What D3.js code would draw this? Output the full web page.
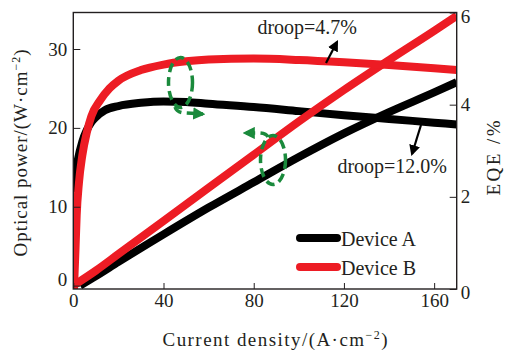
<!DOCTYPE html>
<html>
<head>
<meta charset="utf-8">
<script src="https://cdn.jsdelivr.net/npm/d3@7"></script>
<style>
  body { margin: 0; background: #fff; }
  svg text { font-family: "Liberation Serif", "Times New Roman", serif !important; }
</style>
</head>
<body>
<svg id="chart" width="506" height="351"></svg>
<script>
// current density (A/cm2) and optical power (W/cm2)
const jPowerA = [3, 10, 20, 40, 60, 80, 100, 120, 140, 160, 170];
const powerA = [0, 1.2, 3.0, 6.5, 9.9, 13.1, 16.3, 19.3, 22.0, 24.5, 25.8];
const jPowerB = [0, 10, 20, 40, 60, 80, 100, 120, 140, 160, 170];
const powerB = [0, 1.9, 4.0, 8.2, 12.4, 16.6, 20.8, 24.8, 28.6, 32.3, 34.2];

// EQE (%)
const jEqeA = [0, 1, 2, 4, 6, 8, 10, 14, 20, 30, 40, 50, 60, 80, 100, 120, 140, 160, 170];
const eqeA = [2.1, 2.5, 2.8, 3.2, 3.45, 3.62, 3.73, 3.88, 3.97, 4.04, 4.07, 4.06, 4.02, 3.95, 3.86, 3.77, 3.69, 3.61, 3.57];
const jEqeB = [0.3, 1, 1.5, 2.5, 4, 6, 8, 12, 16, 20, 30, 40, 50, 60, 80, 100, 120, 140, 160, 170];
const eqeB = [0, 0.9, 1.6, 2.3, 2.9, 3.4, 3.75, 4.1, 4.35, 4.52, 4.75, 4.87, 4.94, 4.98, 5.0, 4.97, 4.92, 4.86, 4.79, 4.75];

const xTicks = [0, 40, 80, 120, 160];
const leftTicks = [0, 10, 20, 30];
const rightTicks = [0, 2, 4, 6];
const devices = ["Device A", "Device B"];
const droopLabels = ["droop=4.7%", "droop=12.0%"];

const BOX = { LEFT: 73.3, RIGHT: 456.7, TOP: 12.5, BOTTOM: 289 };
const RED = "#ed1c24", BLACK = "#000", GREEN = "#1a8a3c", INK = "#231f20";

let svg = d3.select("#chart");
let defs = svg.append("defs");

let x = d3.scaleLinear().domain([0, 170]).range([BOX.LEFT, BOX.RIGHT]);
let yL = d3.scaleLinear().domain([-0.43, 34.63]).range([BOX.BOTTOM, BOX.TOP]);
let yR = d3.scaleLinear().domain([0, 6]).range([BOX.BOTTOM, BOX.TOP]);

defs.append("clipPath").attr("id", "plot-clip")
  .append("rect")
  .attr("x", BOX.LEFT).attr("y", BOX.TOP)
  .attr("width", BOX.RIGHT - BOX.LEFT).attr("height", BOX.BOTTOM - BOX.TOP);

let curves = svg.append("g").attr("clip-path", "url(#plot-clip)");

function drawCurve(xs, ys, yScale, color) {
  let pts = xs.map((v, i) => [v, ys[i]]);
  let line = d3.line()
    .x(d => x(d[0]))
    .y(d => yScale(d[1]))
    .curve(d3.curveMonotoneX);
  curves.append("path")
    .attr("d", line(pts))
    .attr("fill", "none")
    .attr("stroke", color)
    .attr("stroke-width", 8)
    .attr("stroke-linejoin", "round");
}

drawCurve(jPowerA, powerA, yL, BLACK);
drawCurve(jEqeA, eqeA, yR, BLACK);
drawCurve(jPowerB, powerB, yL, RED);
drawCurve(jEqeB, eqeB, yR, RED);

// frame
svg.append("rect")
  .attr("x", BOX.LEFT).attr("y", BOX.TOP)
  .attr("width", BOX.RIGHT - BOX.LEFT).attr("height", BOX.BOTTOM - BOX.TOP)
  .attr("fill", "none").attr("stroke", INK).attr("stroke-width", 1.4);

function styleAxis(g) {
  g.select(".domain").remove();
  g.selectAll(".tick line").attr("stroke", INK).attr("stroke-width", 1);
  g.selectAll(".tick text").attr("fill", INK).attr("font-size", 19);
}

svg.append("g")
  .attr("transform", "translate(0," + BOX.BOTTOM + ")")
  .call(d3.axisBottom(x).tickValues(xTicks).tickFormat(d3.format("d")).tickSize(-6).tickPadding(5))
  .call(styleAxis);

let gl = svg.append("g")
  .attr("transform", "translate(" + BOX.LEFT + ",0)")
  .call(d3.axisLeft(yL).tickValues(leftTicks).tickFormat(d3.format("d")).tickSize(-7).tickPadding(6))
  .call(styleAxis);
gl.selectAll(".tick text").filter(d => d === 0).attr("y", -6);

let gr = svg.append("g")
  .attr("transform", "translate(" + BOX.RIGHT + ",0)")
  .call(d3.axisRight(yR).tickValues(rightTicks).tickFormat(d3.format("d")).tickSize(-7).tickPadding(4))
  .call(styleAxis);
gr.selectAll(".tick text").filter(d => d === 6).attr("y", 4);
gr.selectAll(".tick text").filter(d => d === 0).attr("y", 3);

// axis titles
let xTitle = svg.append("text")
  .attr("x", 275).attr("y", 346)
  .attr("text-anchor", "middle")
  .attr("font-size", 19).attr("fill", INK)
  .attr("textLength", 225).attr("lengthAdjust", "spacing");
xTitle.append("tspan").text("Current  density/(A·cm");
xTitle.append("tspan").attr("font-size", 12).attr("dy", -7).text("−2");
xTitle.append("tspan").attr("dy", 7).text(")");

let yTitle = svg.append("text")
  .attr("transform", "translate(27,153) rotate(-90)")
  .attr("text-anchor", "middle")
  .attr("font-size", 19).attr("fill", INK)
  .attr("textLength", 207).attr("lengthAdjust", "spacing");
yTitle.append("tspan").text("Optical  power/(W·cm");
yTitle.append("tspan").attr("font-size", 12).attr("dy", -7).text("−2");
yTitle.append("tspan").attr("dy", 7).text(")");

svg.append("text")
  .attr("transform", "translate(500,158) rotate(-90)")
  .attr("text-anchor", "middle")
  .attr("font-size", 19).attr("fill", INK)
  .attr("textLength", 75).attr("lengthAdjust", "spacing")
  .text("EQE /%");

// legend
let legend = svg.append("g");
devices.forEach((name, i) => {
  let ly = 238 + i * 29;
  legend.append("line")
    .attr("x1", 300).attr("x2", 337).attr("y1", ly).attr("y2", ly)
    .attr("stroke", i === 0 ? BLACK : RED)
    .attr("stroke-width", 8).attr("stroke-linecap", "round");
  legend.append("text")
    .attr("x", 341).attr("y", ly + 8)
    .attr("font-size", 20).attr("fill", INK)
    .text(name);
});

// droop annotations
defs.append("marker")
  .attr("id", "arrow-black")
  .attr("viewBox", "0 0 10 10").attr("refX", 8).attr("refY", 5)
  .attr("markerWidth", 5).attr("markerHeight", 5)
  .attr("orient", "auto")
  .append("path").attr("d", "M0,0 L10,5 L0,10 Z").attr("fill", BLACK);

svg.append("text").attr("x", 357).attr("y", 34)
  .attr("text-anchor", "end").attr("font-size", 20).attr("fill", INK)
  .text(droopLabels[0]);
svg.append("line")
  .attr("x1", 326).attr("y1", 63).attr("x2", 337).attr("y2", 42)
  .attr("stroke", BLACK).attr("stroke-width", 2.2)
  .attr("marker-end", "url(#arrow-black)");

svg.append("text").attr("x", 447).attr("y", 173)
  .attr("text-anchor", "end").attr("font-size", 20).attr("fill", INK)
  .text(droopLabels[1]);
svg.append("line")
  .attr("x1", 421).attr("y1", 125).attr("x2", 412).attr("y2", 154)
  .attr("stroke", BLACK).attr("stroke-width", 2.2)
  .attr("marker-end", "url(#arrow-black)");

// green axis indicators
defs.append("marker")
  .attr("id", "arrow-green")
  .attr("viewBox", "0 0 10 10").attr("refX", 8).attr("refY", 5)
  .attr("markerWidth", 3.5).attr("markerHeight", 3.5)
  .attr("orient", "auto")
  .append("path").attr("d", "M0,0 L10,5 L0,10 Z").attr("fill", GREEN);

let green = svg.append("g")
  .attr("fill", "none").attr("stroke", GREEN)
  .attr("stroke-width", 3.5).attr("stroke-dasharray", "9,5");

green.append("ellipse").attr("cx", 180.5).attr("cy", 82.5).attr("rx", 12).attr("ry", 25);
green.append("path")
  .attr("d", "M175,107 Q177,113 186,113 L203,114")
  .attr("stroke-dasharray", null)
  .attr("marker-end", "url(#arrow-green)");

green.append("ellipse").attr("cx", 273).attr("cy", 160).attr("rx", 12.5).attr("ry", 24.5);
green.append("path")
  .attr("d", "M268,137 Q266,133 258,133 L245,133")
  .attr("stroke-dasharray", null)
  .attr("marker-end", "url(#arrow-green)");
</script>
</body>
</html>
